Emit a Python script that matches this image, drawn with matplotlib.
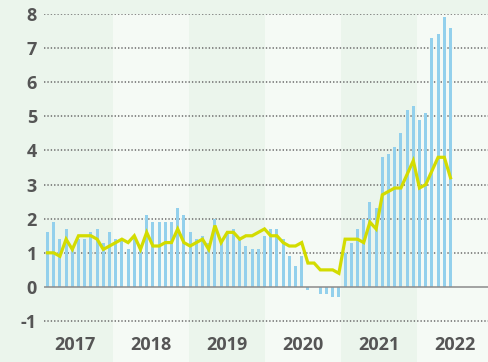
import numpy as np
import matplotlib
matplotlib.use("Agg")
import matplotlib.pyplot as plt

# Monthly inflation rate (%), Jan 2017 - Jun 2022
cpi = [
    1.6, 1.9, 1.4, 1.7, 1.1, 1.4, 1.4, 1.6, 1.7, 1.3, 1.6, 1.4,       # 2017
    1.4, 1.1, 1.5, 1.2, 2.1, 1.9, 1.9, 1.9, 1.9, 2.3, 2.1, 1.6,       # 2018
    1.4, 1.5, 1.3, 2.0, 1.4, 1.6, 1.7, 1.4, 1.2, 1.1, 1.1, 1.5,       # 2019
    1.7, 1.7, 1.4, 0.9, 0.6, 0.9, -0.1, 0.0, -0.2, -0.2, -0.3, -0.3,  # 2020
    1.0, 1.3, 1.7, 2.0, 2.5, 2.3, 3.8, 3.9, 4.1, 4.5, 5.2, 5.3,       # 2021
    4.9, 5.1, 7.3, 7.4, 7.9, 7.6,                                     # 2022
]

# Core rate (%), same months
core = [
    1.0, 1.0, 0.9, 1.4, 1.1, 1.5, 1.5, 1.5, 1.4, 1.1, 1.2, 1.3,
    1.4, 1.3, 1.5, 1.1, 1.6, 1.2, 1.2, 1.3, 1.3, 1.7, 1.3, 1.2,
    1.3, 1.4, 1.1, 1.8, 1.3, 1.6, 1.6, 1.4, 1.5, 1.5, 1.6, 1.7,
    1.5, 1.5, 1.3, 1.2, 1.2, 1.3, 0.7, 0.7, 0.5, 0.5, 0.5, 0.4,
    1.4, 1.4, 1.4, 1.3, 1.9, 1.7, 2.7, 2.8, 2.9, 2.9, 3.3, 3.7,
    2.9, 3.0, 3.4, 3.8, 3.8, 3.2,
]

years = [2017, 2018, 2019, 2020, 2021, 2022]
yticks = [-1, 0, 1, 2, 3, 4, 5, 6, 7, 8]

band_dark = "#ebf5ec"
band_light = "#f5faf5"
bar_color = "#93d0ec"
line_color = "#d3dc00"
text_color = "#555555"
font = dict(family=["Open Sans", "DejaVu Sans"], weight="bold", size=13, color=text_color)

W, H = 488, 362
left_px, top_px = 43.5, 14
fig = plt.figure(figsize=(W / 100, H / 100), dpi=100, facecolor=band_dark)
rect = [left_px / W, 0, 1 - left_px / W, (H - top_px) / H]

# background: alternating year bands with year labels
ax_bg = fig.add_axes(rect)
ax_bg.set_axis_off()
ax_bg.set_xlim(2017 + (left_px - 37) / 76, 2017 + (W - 37) / 76)
ax_bg.set_ylim(0, 1)
for k, yr in enumerate(years):
    ax_bg.axvspan(yr, yr + 1, color=band_dark if k % 2 == 0 else band_light, lw=0)
    ax_bg.text(yr + 0.5, 0.049, str(yr), ha="center", va="center", **font)

# foreground: bars, line and grid
ax = fig.add_axes(rect, facecolor="none")
x = np.arange(len(cpi))
for v in yticks:
    if v != 0:
        ax.axhline(v, color="#6a6a6a", lw=1.1, ls=(0, (0.9, 1.3)), zorder=1)
ax.bar(x, cpi, width=0.5, color=bar_color, zorder=2)
ax.axhline(0, color="#8a8a8a", lw=1.1, zorder=3)
ax.plot(x, core, color=line_color, lw=2.3, zorder=4, solid_joinstyle="miter")

ax.set_xlim((left_px - 47.5) / 6.2, (W - 47.5) / 6.2)
ax.set_ylim(-2.2, 8.0)
ax.set_xticks([])
ax.set_yticks(yticks)
ax.set_yticklabels([str(v) for v in yticks], fontdict=font)
ax.tick_params(axis="y", length=0, pad=4.7)
for s in ax.spines.values():
    s.set_visible(False)

fig.savefig("out.png", dpi=100, facecolor=band_dark)
